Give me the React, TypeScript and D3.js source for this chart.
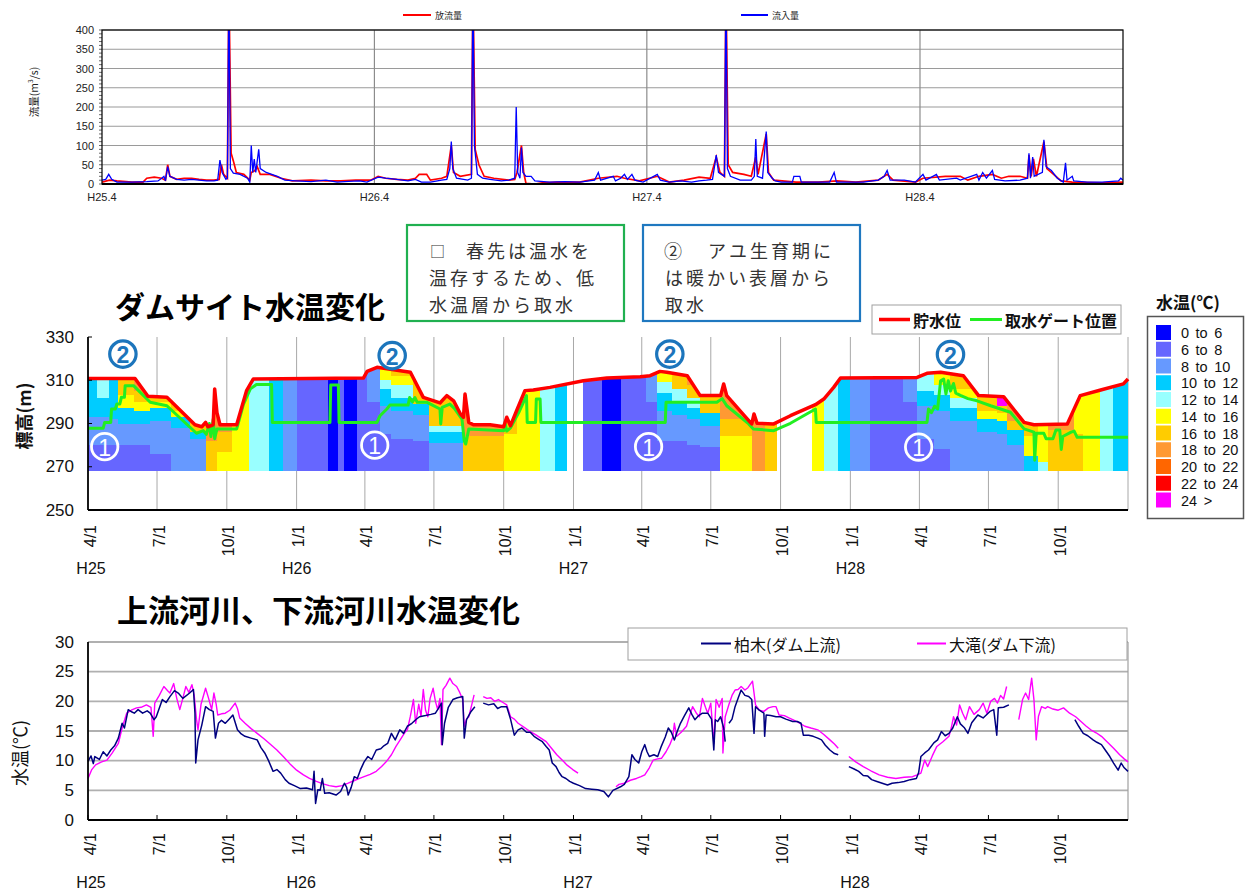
import React from 'react';
import * as d3 from 'd3';

const BASE = new Date(2013, 3, 1);
const day = (n: number) => d3.timeDay.offset(BASE, n);

const JP = "'Noto Sans CJK JP', 'Noto Sans', sans-serif";
const NUM = "'Liberation Sans', Arial, 'Noto Sans CJK JP', sans-serif";

// ---------- top chart: flows (m3/s) ----------
const FLOW_TICKS = [0, 50, 100, 150, 200, 250, 300, 350, 400];
const TOP_X_LABELS = ['H25.4', 'H26.4', 'H27.4', 'H28.4'];
const OUTFLOW: [number, number][] = [
  [0,5],[10,10],[20,8],[40,5],[55,5],[60,15],[70,18],[80,15],[85,10],[88,50],[91,20],[100,12],[110,15],[120,15],[130,12],[140,10],[150,10],[157,12],[160,50],[163,25],[168,15],[170,520],[173,80],[176,60],[180,30],[190,25],[198,10],[200,30],[205,35],[208,45],[212,25],[225,25],[240,15],[255,8],[280,10],[300,8],[320,8],[340,10],[360,10],[370,20],[380,15],[395,12],[410,10],[420,15],[425,25],[435,25],[440,10],[455,15],[462,20],[468,100],[471,30],[480,20],[495,25],[497,520],[500,90],[505,50],[512,20],[525,15],[545,10],[553,12],[556,30],[562,100],[565,30],[568,2],[580,0],[590,3],[610,5],[640,5],[665,15],[690,20],[700,15],[720,8],[744,20],[760,5],[780,10],[800,18],[815,15],[823,70],[828,30],[834,20],[836,520],[839,50],[845,30],[860,25],[870,20],[876,70],[879,25],[890,130],[893,30],[900,10],[930,5],[960,5],[985,8],[1010,5],[1040,10],[1052,25],[1060,10],[1090,5],[1100,15],[1130,20],[1150,20],[1160,10],[1175,20],[1193,25],[1205,15],[1215,20],[1230,20],[1240,15],[1242,75],[1245,20],[1248,65],[1252,20],[1262,110],[1266,40],[1272,30],[1285,8],[1300,5],[1340,3],[1368,5]
];
const INFLOW: [number, number][] = [
  [0,10],[5,12],[9,25],[13,12],[20,5],[40,5],[60,6],[75,8],[80,15],[83,20],[85,8],[88,45],[91,20],[100,12],[110,10],[120,12],[130,10],[140,8],[150,8],[155,10],[158,62],[161,30],[166,12],[168,15],[170,520],[172,40],[176,28],[185,25],[195,15],[198,5],[200,100],[202,30],[204,65],[206,30],[210,90],[212,40],[220,30],[235,20],[245,10],[260,8],[280,6],[300,10],[315,5],[330,7],[345,8],[355,5],[370,18],[380,15],[395,12],[410,8],[420,12],[428,5],[440,5],[455,10],[462,12],[466,40],[468,110],[470,40],[475,15],[490,10],[495,15],[497,520],[499,100],[503,25],[510,15],[520,12],[535,8],[545,10],[553,15],[555,200],[557,30],[560,15],[562,95],[564,30],[568,20],[575,20],[580,8],[600,5],[620,6],[640,5],[660,10],[665,30],[668,10],[685,20],[688,8],[695,15],[700,25],[704,12],[710,25],[714,10],[725,5],[744,25],[748,10],[760,5],[775,8],[790,5],[800,8],[810,10],[818,12],[823,75],[826,30],[830,25],[834,20],[836,520],[838,40],[842,20],[855,10],[870,10],[874,20],[876,117],[878,20],[885,15],[890,136],[892,30],[898,15],[902,8],[910,5],[925,5],[927,20],[935,20],[937,5],[960,5],[975,5],[981,30],[984,5],[1000,5],[1020,5],[1040,10],[1048,20],[1052,35],[1056,10],[1075,10],[1090,5],[1100,25],[1104,10],[1118,25],[1122,10],[1145,15],[1150,10],[1172,25],[1175,10],[1180,30],[1185,15],[1193,35],[1196,12],[1210,8],[1230,10],[1240,15],[1242,80],[1244,15],[1247,70],[1249,20],[1260,30],[1262,115],[1265,45],[1272,35],[1280,15],[1288,5],[1291,55],[1293,10],[1300,20],[1302,8],[1320,5],[1340,5],[1362,8],[1365,15],[1368,10]
];

// ---------- middle chart: dam site ----------
const ELEV_TICKS = [250, 270, 290, 310, 330];
const TEMP_LABELS = ['0 to 6', '6 to 8', '8 to 10', '10 to 12', '12 to 14', '14 to 16', '16 to 18', '18 to 20', '20 to 22', '22 to 24', '24 >'];
const TEMP_COLORS = ['#0000FF', '#6666FF', '#6699FF', '#00CCFF', '#99FFFF', '#FFFF00', '#FFCC00', '#FF9933', '#FF6600', '#FF0000', '#FF00FF'];
const HEAT_BOTTOM = 268;
// [startDay, endDay, [[layerTopElev, classIndex], ...] from the bottom]
const PROFILES: [number, number, [number, number][]][] = [
  [0, 12, [[280,1],[293,2],[330,3]]],
  [12, 28, [[280,1],[293,2],[302,3],[330,4]]],
  [28, 40, [[280,1],[292,2],[330,3]]],
  [40, 60, [[280,1],[290,2],[297,3],[303,5],[330,6]]],
  [60, 82, [[280,1],[290,2],[296,3],[300,5],[305,6],[330,7]]],
  [82, 110, [[276,1],[291,2],[297,3],[300,5],[330,6]]],
  [110, 135, [[288,2],[293,3],[296,5],[330,6]]],
  [135, 155, [[283,2],[286,3],[330,6]]],
  [155, 170, [[282,6],[330,7]]],
  [170, 190, [[277,5],[286,6],[330,7]]],
  [190, 212, [[330,5]]],
  [212, 239, [[330,4]]],
  [239, 257, [[330,3]]],
  [257, 275, [[330,2]]],
  [275, 317, [[330,1]]],
  [317, 330, [[330,0]]],
  [330, 337, [[330,1]]],
  [337, 354, [[330,0]]],
  [354, 368, [[330,1]]],
  [368, 385, [[300,1],[330,2]]],
  [385, 400, [[285,1],[298,2],[306,3],[310,4],[330,5]]],
  [400, 429, [[283,1],[296,2],[302,3],[308,4],[312,5],[330,6]]],
  [429, 450, [[282,1],[294,2],[299,3],[330,6]]],
  [450, 495, [[281,2],[286,3],[289,4],[330,6]]],
  [495, 548, [[284,6],[330,7]]],
  [548, 565, [[285,5],[330,6]]],
  [565, 596, [[330,5]]],
  [596, 616, [[330,4]]],
  [616, 631, [[330,3]]],
  [653, 677, [[330,1]]],
  [677, 703, [[330,0]]],
  [703, 735, [[330,1]]],
  [735, 750, [[300,1],[330,2]]],
  [750, 770, [[282,1],[296,2],[304,3],[309,4],[330,5]]],
  [770, 790, [[282,1],[294,2],[300,3],[306,4],[330,6]]],
  [790, 807, [[280,1],[292,2],[297,3],[302,4],[308,6],[330,7]]],
  [807, 833, [[279,1],[289,2],[295,3],[330,6]]],
  [833, 875, [[284,5],[292,6],[330,7]]],
  [875, 892, [[330,7]]],
  [892, 908, [[330,6]]],
  [954, 970, [[330,5]]],
  [970, 989, [[330,4]]],
  [989, 1005, [[330,3]]],
  [1005, 1031, [[330,2]]],
  [1031, 1075, [[330,1]]],
  [1075, 1093, [[300,1],[330,2]]],
  [1093, 1115, [[283,1],[298,2],[305,3],[330,4]]],
  [1115, 1137, [[278,1],[296,2],[303,3],[308,4],[330,5]]],
  [1137, 1172, [[291,2],[297,3],[302,4],[306,5],[330,6]]],
  [1172, 1198, [[286,2],[292,3],[296,5],[330,6]]],
  [1198, 1212, [[285,2],[291,3],[295,5],[298,6],[330,10]]],
  [1212, 1234, [[280,2],[287,3],[291,6],[330,7]]],
  [1234, 1252, [[275,3],[284,5],[330,6]]],
  [1252, 1266, [[272,4],[330,5]]],
  [1266, 1300, [[287,6],[330,7]]],
  [1300, 1312, [[285,6],[330,5]]],
  [1312, 1334, [[330,5]]],
  [1334, 1351, [[330,4]]],
  [1351, 1371, [[330,3]]]
];
const WATER_LEVEL: [number, number][] = [
  [0,310.8],[62,310.8],[79,302.6],[104,302.1],[141,289.4],[150,288.5],[155,290.5],[158,288.5],[165,289.4],[167,306],[170,295],[174,289.4],[196,289.4],[209,305.2],[218,310.6],[363,311],[368,314.1],[381,316],[425,313.7],[442,302.1],[464,299.5],[473,302.9],[482,300.5],[491,294.4],[495,292.9],[497,303.6],[502,290.5],[508,289.4],[530,289.4],[548,288.5],[552,292.9],[557,289],[565,295.9],[576,305.2],[587,305.5],[609,306.7],[653,309.8],[684,311],[728,311.6],[741,312.1],[754,314.1],[763,313.7],[790,312.1],[807,302.9],[834,302.9],[838,308.3],[842,302.9],[869,292.1],[875,289.8],[878,294.4],[882,290.1],[904,289.8],[926,293.6],[959,298.7],[970,301.3],[983,306.7],[992,311],[1093,311.3],[1106,313.2],[1124,313.7],[1154,312.1],[1174,302.9],[1207,302.4],[1234,290.5],[1247,289.4],[1291,289.8],[1308,302.9],[1335,305.5],[1365,308.3],[1371,310.6]
];
const GATE_LEVEL: [number, number][] = [
  [0,287.8],[20,287.8],[22,290.5],[30,290.5],[31,296.7],[36,296.7],[38,299],[42,299],[44,302.1],[48,302.1],[49,307.5],[60,307.5],[82,299.8],[104,298.2],[143,285.5],[152,286.7],[156,285],[160,290],[162,284],[165,292],[167,283],[170,287.5],[196,287.5],[205,299],[214,306],[222,308],[242,308],[243,290.5],[319,290.5],[320,307.8],[330,307.8],[331,290.5],[381,290.5],[385,293.6],[394,296.7],[398,298.5],[422,298.5],[424,302],[428,300],[431,302],[434,299.8],[447,299.8],[464,296.7],[465,289.8],[467,297.5],[477,299],[483,297],[493,292],[496,282],[498,280.5],[502,287.5],[548,286.7],[550,289.8],[552,286.5],[557,288],[568,295.2],[578,302.9],[579,290.5],[590,290.5],[591,301.3],[596,301.3],[597,290.5],[761,290.5],[762,299.8],[829,299.8],[836,301.5],[842,298.2],[871,289.8],[877,287.5],[904,286.7],[926,290.1],[959,296.7],[960,290.5],[1106,290.5],[1108,296.7],[1112,295],[1116,298],[1120,296.7],[1124,309.8],[1128,310.6],[1131,303.6],[1134,309.8],[1137,305],[1141,308.5],[1144,304],[1150,303],[1160,301.5],[1172,300.5],[1190,298.2],[1216,295.2],[1234,287.5],[1247,286],[1248,273],[1250,285.5],[1260,285.5],[1263,283],[1272,283],[1276,287],[1281,287],[1283,278],[1285,284],[1296,286],[1300,286.5],[1304,283.6],[1371,283.6]
];
const MARK2: [number, number][] = [[46.1,322.1],[401.5,321.4],[767.4,322.1],[1137.9,321.9]];
const MARK1: [number, number][] = [[22.4,279.3],[378.4,280],[739.7,279.3],[1095.7,279.1]];
const YEAR_LABELS = ['H25', 'H26', 'H27', 'H28'];
const YEAR_LABEL_DAYS = [4, 275, 640, 1005];

// ---------- bottom chart: river temperatures ----------
const TEMP_TICKS = [0, 5, 10, 15, 20, 25, 30];
const KASHIWAGI: [number, number][] = [
  [0,9.9],[4,10.8],[7,9.5],[9,10.7],[15,10.2],[20,11.5],[25,10.8],[30,11.8],[35,12.5],[40,13.8],[45,16.3],[48,15.5],[53,18.6],[58,18.2],[61,18.0],[66,18.6],[72,18.0],[78,18.4],[82,18.0],[87,16.9],[90,17.4],[98,20.3],[103,19.8],[108,20.8],[114,21.8],[119,21.4],[125,20.5],[134,21.4],[139,22.0],[141,18],[142,9.6],[145,13.5],[150,16],[155,19.1],[160,18.6],[165,18.3],[168,13.8],[172,16.3],[176,16.8],[181,16.3],[186,17.0],[191,17.7],[197,15.2],[202,14.5],[207,14.1],[215,13.8],[223,13.5],[228,12.2],[233,11.3],[238,10.0],[244,8.2],[249,8.5],[254,7.9],[260,6.8],[265,6.2],[272,5.8],[280,5.3],[288,5.4],[296,5.1],[298,8.2],[300,2.8],[303,5.1],[306,5.0],[309,7.0],[312,4.5],[318,4.6],[327,4.2],[333,4.8],[338,6.2],[341,5.5],[343,4.2],[347,5.5],[351,7.3],[355,7.0],[359,8.4],[364,9.8],[369,10.7],[374,10.2],[380,11.8],[386,12.0],[390,12.5],[395,12.9],[400,14.6],[405,13.5],[411,15.2],[416,14.6],[421,15.8],[427,16.3],[432,16.9],[437,17.4],[445,17.6],[452,17.8],[458,18.0],[462,18.8],[466,19.7],[467,12.7],[470,16.3],[475,19.0],[481,20.3],[487,20.6],[494,20.8],[496,13.8],[499,16.9],[505,18.3],[510,19.1],[511,NaN],[521,19.7],[528,19.4],[535,19.6],[540,18.8],[545,19.1],[552,19.1],[557,17],[562,14.3],[567,15.2],[572,15.5],[578,14.8],[583,14.8],[588,14.1],[594,13.6],[599,13.2],[604,12.4],[608,11.8],[612,9.6],[617,9.0],[621,8.0],[625,7.3],[630,7.0],[635,6.5],[640,6.2],[648,5.8],[656,5.3],[664,5.2],[672,5.1],[680,4.8],[686,3.9],[692,5.0],[702,5.6],[707,6.0],[713,7.3],[717,11.0],[721,10.2],[726,9.6],[730,11.5],[734,12.7],[737,11.5],[740,10.7],[746,11.0],[751,10.7],[756,12.5],[761,14.0],[765,15.5],[769,14.8],[773,13.5],[777,15.0],[781,16.3],[786,17.5],[792,18.9],[796,17.8],[800,16.9],[805,17.6],[810,18.0],[817,18.0],[822,17.0],[825,11.8],[827,16.9],[830,16.6],[834,17.4],[838,15.5],[840,13.2],[841,NaN],[845,16.3],[849,17.0],[853,19.1],[857,20.5],[861,21.9],[866,21.0],[871,20.8],[875,20.3],[878,14.6],[880,19.1],[885,18.5],[891,18.0],[892,14.1],[894,17.7],[900,17.6],[907,17.4],[913,17.4],[920,17.0],[929,16.6],[935,16.6],[940,16.3],[943,14.3],[950,14.3],[956,14.1],[962,13.8],[967,13.5],[972,12.6],[978,11.8],[984,11.2],[989,11.0],[990,NaN],[1003,9.0],[1010,8.6],[1016,8.2],[1022,7.5],[1028,7.4],[1033,6.8],[1040,6.5],[1047,6.2],[1054,5.9],[1060,6.2],[1068,6.3],[1076,6.5],[1084,6.8],[1092,7.0],[1095,8.0],[1098,10.7],[1103,11.3],[1108,11.8],[1115,13.0],[1120,13.5],[1125,14.9],[1130,14.2],[1135,14.6],[1140,15.5],[1146,17.4],[1150,16.2],[1155,15.6],[1160,14.6],[1165,16.4],[1173,17.7],[1180,17.2],[1189,18.3],[1194,18.6],[1198,14.3],[1200,18.9],[1207,19.0],[1214,19.4],[1215,NaN],[1301,16.9],[1306,15.8],[1312,14.6],[1318,14.2],[1325,13.5],[1330,13.1],[1336,12.7],[1341,11.8],[1347,10.7],[1352,9.6],[1358,8.4],[1362,9.6],[1366,8.8],[1371,8.2]
];
const OOTAKI: [number, number][] = [
  [0,7.0],[5,8.5],[10,9.3],[18,9.8],[25,10.1],[32,11.3],[40,12.9],[45,15.5],[51,18.0],[57,18.5],[64,18.9],[70,19.0],[77,19.4],[83,19.0],[86,14.1],[88,19.7],[94,21.0],[100,22.5],[105,21.8],[108,21.4],[113,23.0],[117,20.5],[121,18.6],[125,20.5],[129,22.5],[133,21.5],[137,22.8],[140,21.0],[143,17],[145,15.2],[149,19.5],[155,22.2],[159,20.5],[163,18.6],[166,21.4],[169,19.5],[171,17.7],[176,17.9],[181,18.0],[187,18.5],[194,19.7],[197,18.8],[200,17.2],[207,16.3],[215,15.4],[223,14.6],[232,13.7],[240,12.8],[249,11.8],[258,10.6],[266,9.5],[275,8.4],[284,7.6],[292,7.0],[301,6.5],[310,6.1],[318,5.8],[327,5.6],[335,5.8],[343,6.2],[352,6.7],[358,7.0],[364,7.3],[372,7.7],[380,8.2],[387,9.0],[393,9.8],[400,11.0],[406,12.4],[413,13.8],[418,14.8],[421,15.2],[425,17.5],[429,20.3],[432,16.3],[436,19.5],[439,17.5],[442,22.0],[445,18.5],[448,17.4],[451,20.5],[455,22.2],[458,20.0],[461,18.6],[464,20.5],[466,12.7],[468,22.0],[472,22.7],[477,23.9],[481,23.0],[486,22.5],[490,21.5],[494,20.3],[496,15.8],[499,17.0],[502,17.4],[506,19.5],[509,21.1],[510,NaN],[521,20.8],[526,20.5],[531,20.6],[536,20.0],[541,20.3],[547,19.8],[552,19.4],[557,17.4],[562,17.0],[567,16.3],[575,15.6],[583,14.9],[590,14.4],[597,13.8],[604,13.2],[611,12.1],[618,11.0],[625,10.1],[632,9.2],[639,8.5],[646,7.9],[647,NaN],[696,5.6],[700,6.0],[707,6.2],[715,6.7],[723,7.0],[729,7.3],[734,7.6],[740,8.8],[745,10.1],[751,10.3],[756,10.4],[762,11.5],[767,12.7],[771,14.0],[773,16.3],[776,14.1],[782,14.8],[789,15.8],[793,17.5],[797,19.1],[802,18.0],[806,17.4],[810,20.5],[814,19.0],[817,18.0],[821,19.7],[825,12.9],[828,20.3],[832,19.0],[836,20.5],[837,11.3],[840,17.4],[845,19.5],[849,21.0],[853,21.9],[857,22.0],[861,22.5],[866,21.9],[870,22.3],[876,23.4],[880,19.4],[885,18.5],[891,18.3],[897,18.9],[903,19.1],[907,19.1],[911,17.7],[918,17.6],[924,17.2],[929,16.9],[937,16.4],[945,15.8],[953,15.5],[962,15.2],[970,14.4],[978,13.5],[984,12.8],[989,12.1],[990,NaN],[1003,10.7],[1012,9.8],[1022,9.0],[1032,8.3],[1043,7.6],[1054,7.2],[1065,7.0],[1076,7.2],[1087,7.3],[1093,7.6],[1098,7.9],[1103,10.1],[1107,9.0],[1113,10.8],[1119,12.4],[1127,13.2],[1135,14.1],[1138,15.5],[1141,17.4],[1145,16.0],[1149,19.4],[1153,18.0],[1157,16.9],[1162,19.1],[1168,17.8],[1175,18.6],[1180,19.7],[1185,18.0],[1190,20.0],[1195,20.5],[1199,19.7],[1203,21.0],[1207,20.4],[1211,22.5],[1212,NaN],[1227,16.9],[1232,20.3],[1236,21.4],[1240,20.3],[1244,23.9],[1247,20.3],[1250,13.5],[1253,17.5],[1257,19.1],[1262,18.8],[1265,19.1],[1272,18.7],[1279,18.5],[1286,18.9],[1294,18.0],[1302,17.4],[1309,16.6],[1316,15.8],[1322,15.2],[1329,14.7],[1336,14.1],[1344,13.1],[1352,12.1],[1360,11.0],[1366,10.3],[1371,9.8]
];
const BOT_YEAR_DAYS = [4, 281, 646, 1011];

export default function App() {
  const topX = d3.scaleTime().domain([day(0), day(1368)]).range([102, 1123]);
  const topY = d3.scaleLinear().domain([0, 400]).range([184, 30]);
  const midX = d3.scaleTime().domain([day(0), day(1371)]).range([88, 1128]);
  const midY = d3.scaleLinear().domain([250, 330]).range([510, 337]);
  const botY = d3.scaleLinear().domain([0, 30]).range([820, 642]);

  const flowLine = d3.line<[number, number]>().x(d => topX(day(d[0]))).y(d => topY(d[1]));
  const elevLine = d3.line<[number, number]>().x(d => midX(day(d[0]))).y(d => midY(d[1]));
  const wlArea = d3.area<[number, number]>().x(d => midX(day(d[0]))).y0(midY(250)).y1(d => midY(d[1]));
  const tempLine = d3.line<[number, number]>().defined(d => !isNaN(d[1])).x(d => midX(day(d[0]))).y(d => botY(d[1]));

  const quarters = d3.timeMonth.every(3)!.range(day(0), day(1371));
  const topYears = TOP_X_LABELS.map((_, i) => d3.timeYear.offset(BASE, i));
  const minorTop = d3.range(0, 401, 10);

  const annot = { fontSize: 18, letterSpacing: 3 };

  return (
    <svg width={1245} height={892} style={{ position: 'absolute', left: 0, top: 0, background: '#fff' }}>
      <defs>
        <clipPath id="topclip"><rect x={102} y={30} width={1021} height={154} /></clipPath>
        <clipPath id="wlclip"><path d={wlArea(WATER_LEVEL) || ''} /></clipPath>
      </defs>
      <rect x={0} y={0} width={1245} height={892} fill="#fff" />

      {/* ===== top chart ===== */}
      <g>
        {FLOW_TICKS.map(t => (
          <line key={'tg' + t} x1={102} x2={1123} y1={topY(t)} y2={topY(t)} stroke="#9a9a9a" strokeWidth={1.2} />
        ))}
        {topYears.slice(1).map((d, i) => (
          <line key={'tv' + i} x1={topX(d)} x2={topX(d)} y1={30} y2={184} stroke="#8c8c8c" strokeWidth={1.2} />
        ))}
        <g clipPath="url(#topclip)">
          <path d={flowLine(OUTFLOW) || ''} fill="none" stroke="#FF0000" strokeWidth={1.7} />
          <path d={flowLine(INFLOW) || ''} fill="none" stroke="#0000FF" strokeWidth={1.3} />
        </g>
        <rect x={102} y={30} width={1021} height={154} fill="none" stroke="#000" strokeWidth={1.2} />
        <line x1={102} x2={1123} y1={184} y2={184} stroke="#000" strokeWidth={1.8} />
        {minorTop.map(t => (
          <line key={'mt' + t} x1={99} x2={102} y1={topY(t)} y2={topY(t)} stroke="#000" strokeWidth={0.6} />
        ))}
        {FLOW_TICKS.map(t => (
          <text key={'tl' + t} x={94} y={topY(t)} textAnchor="end" dominantBaseline="central" fontFamily={NUM} fontSize={11} fill="#222">{t}</text>
        ))}
        {topYears.map((d, i) => (
          <text key={'ty' + i} x={topX(d)} y={197} textAnchor="middle" dominantBaseline="central" fontFamily={NUM} fontSize={11} fill="#222">{TOP_X_LABELS[i]}</text>
        ))}
        <text transform="translate(33,92) rotate(-90)" textAnchor="middle" dominantBaseline="central" fontFamily={JP} fontSize={10.5} fill="#222">
          流量(m<tspan fontSize={6.5} dy={-3.5}>3</tspan><tspan dy={3.5}>/s)</tspan>
        </text>
        <line x1={403} x2={431} y1={15} y2={15} stroke="#FF0000" strokeWidth={2} />
        <text x={435} y={15} dominantBaseline="central" fontFamily={JP} fontSize={9} fill="#222">放流量</text>
        <line x1={741} x2={768} y1={15} y2={15} stroke="#0000FF" strokeWidth={2} />
        <text x={772} y={15} dominantBaseline="central" fontFamily={JP} fontSize={9} fill="#222">流入量</text>
      </g>

      {/* ===== annotation boxes ===== */}
      <g fontFamily={JP} fill="#333">
        <rect x={407} y={225} width={217} height={96} fill="#fff" stroke="#20B050" strokeWidth={2.2} />
        <text x={430} y={250} dominantBaseline="central" fontSize={15}>□</text>
        <text x={466} y={250} dominantBaseline="central" {...annot}>春先は温水を</text>
        <text x={429} y={277} dominantBaseline="central" {...annot}>温存するため、低</text>
        <text x={429} y={303.5} dominantBaseline="central" {...annot}>水温層から取水</text>
        <rect x={643} y={225} width={217} height={96} fill="#fff" stroke="#1F78C0" strokeWidth={2.2} />
        <text x={664} y={250} dominantBaseline="central" {...annot}>②</text>
        <text x={708} y={250} dominantBaseline="central" {...annot}>アユ生育期に</text>
        <text x={665} y={277} dominantBaseline="central" {...annot}>は暖かい表層から</text>
        <text x={665} y={303.5} dominantBaseline="central" {...annot}>取水</text>
      </g>

      {/* ===== middle chart ===== */}
      <text x={115} y={318} fontFamily={JP} fontWeight="bold" fontSize={30} fill="#000">ダムサイト水温変化</text>
      <g>
        {quarters.slice(1).map((d, i) => (
          <line key={'mg' + i} x1={midX(d)} x2={midX(d)} y1={337} y2={510} stroke="#a8a8a8" strokeWidth={1} />
        ))}
        <line x1={1128} x2={1128} y1={337} y2={510} stroke="#a8a8a8" strokeWidth={1} />
        <g clipPath="url(#wlclip)" shapeRendering="crispEdges">
          {PROFILES.map(([s, e, layers], i) => {
            let prev = HEAT_BOTTOM;
            const x0 = midX(day(s));
            const x1 = midX(day(e));
            return layers.map(([top, cls], j) => {
              const r = (
                <rect key={'h' + i + '_' + j} x={x0} width={x1 - x0 + 0.5} y={midY(top)} height={midY(prev) - midY(top)} fill={TEMP_COLORS[cls]} />
              );
              prev = top;
              return r;
            });
          })}
        </g>
        <path d={elevLine(GATE_LEVEL) || ''} fill="none" stroke="#22EE22" strokeWidth={3} strokeLinejoin="round" />
        <path d={elevLine(WATER_LEVEL) || ''} fill="none" stroke="#FF0000" strokeWidth={3.5} strokeLinejoin="round" />
        {MARK2.map((m, i) => (
          <g key={'m2' + i} transform={`translate(${midX(day(m[0]))},${midY(m[1])})`}>
            <circle r={13.2} fill="none" stroke="#1C75BC" strokeWidth={3.2} />
            <text x={0} y={1} textAnchor="middle" dominantBaseline="central" fontFamily={NUM} fontWeight="bold" fontSize={23} fill="#1C75BC">2</text>
          </g>
        ))}
        {MARK1.map((m, i) => (
          <g key={'m1' + i} transform={`translate(${midX(day(m[0]))},${midY(m[1])})`}>
            <circle r={13.2} fill="none" stroke="#fff" strokeWidth={2.8} />
            <text x={0} y={1} textAnchor="middle" dominantBaseline="central" fontFamily={NUM} fontSize={23} fill="#fff">1</text>
          </g>
        ))}
        <line x1={88} x2={88} y1={337} y2={510} stroke="#000" strokeWidth={1.8} />
        <line x1={88} x2={1128} y1={510} y2={510} stroke="#000" strokeWidth={1.8} />
        {ELEV_TICKS.map(t => (
          <g key={'et' + t}>
            <line x1={88} x2={92} y1={midY(t)} y2={midY(t)} stroke="#000" />
            <text x={74} y={midY(t)} textAnchor="end" dominantBaseline="central" fontFamily={NUM} fontSize={17} fill="#111">{t}</text>
          </g>
        ))}
        {quarters.map((d, i) => (
          <text key={'mx' + i} transform={`translate(${midX(d) + 2},525) rotate(-90)`} textAnchor="end" dominantBaseline="central" fontFamily={NUM} fontSize={16} fill="#111">{`${d.getMonth() + 1}/1`}</text>
        ))}
        {YEAR_LABELS.map((l, i) => (
          <text key={'my' + i} x={midX(day(YEAR_LABEL_DAYS[i]))} y={568} textAnchor="middle" dominantBaseline="central" fontFamily={NUM} fontSize={16} fill="#111">{l}</text>
        ))}
        <text transform="translate(23,416) rotate(-90)" textAnchor="middle" dominantBaseline="central" fontFamily={JP} fontWeight="bold" fontSize={18} fill="#111">標高(m)</text>
        {/* line legend */}
        <rect x={872} y={305} width={249} height={29} fill="#fff" stroke="#a0a0a0" strokeWidth={1} />
        <line x1={879} x2={910} y1={319.5} y2={319.5} stroke="#FF0000" strokeWidth={3.5} />
        <text x={913} y={319.5} dominantBaseline="central" fontFamily={JP} fontWeight="bold" fontSize={16} fill="#111">貯水位</text>
        <line x1={970} x2={1002} y1={319.5} y2={319.5} stroke="#22EE22" strokeWidth={3} />
        <text x={1005} y={319.5} dominantBaseline="central" fontFamily={JP} fontWeight="bold" fontSize={16} fill="#111">取水ゲート位置</text>
        {/* temperature legend */}
        <text x={1156} y={301} dominantBaseline="central" fontFamily={JP} fontWeight="bold" fontSize={17} fill="#111">水温(℃)</text>
        <rect x={1147.5} y={316.5} width={96} height={202} fill="#fff" stroke="#555" strokeWidth={1.5} />
        {TEMP_LABELS.map((l, i) => (
          <g key={'lg' + i}>
            <rect x={1156} y={325 + i * 16.75} width={15} height={15} fill={TEMP_COLORS[i]} />
            <text x={1181} y={333 + i * 16.75} dominantBaseline="central" fontFamily={NUM} fontSize={14.5} wordSpacing={2.5} fill="#111">{l}</text>
          </g>
        ))}
      </g>

      {/* ===== bottom chart ===== */}
      <text x={117} y={622} fontFamily={JP} fontWeight="bold" fontSize={31} fill="#000">上流河川、下流河川水温変化</text>
      <g>
        {TEMP_TICKS.slice(1).map(t => (
          <line key={'bg' + t} x1={88} x2={1128} y1={botY(t)} y2={botY(t)} stroke="#b0b0b0" strokeWidth={1.8} />
        ))}
        <line x1={1128} x2={1128} y1={642} y2={820} stroke="#a0a0a0" strokeWidth={1.2} />
        <path d={tempLine(OOTAKI) || ''} fill="none" stroke="#FF00FF" strokeWidth={1.4} strokeLinejoin="round" />
        <path d={tempLine(KASHIWAGI) || ''} fill="none" stroke="#000080" strokeWidth={1.5} strokeLinejoin="round" />
        <line x1={88} x2={88} y1={642} y2={820} stroke="#000" strokeWidth={1.8} />
        <line x1={88} x2={1128} y1={820} y2={820} stroke="#000" strokeWidth={1.8} />
        {quarters.map((d, i) => (
          <g key={'bx' + i}>
            <line x1={midX(d)} x2={midX(d)} y1={815} y2={820} stroke="#000" />
            <text transform={`translate(${midX(d) + 2},833) rotate(-90)`} textAnchor="end" dominantBaseline="central" fontFamily={NUM} fontSize={16} fill="#111">{`${d.getMonth() + 1}/1`}</text>
          </g>
        ))}
        {YEAR_LABELS.map((l, i) => (
          <text key={'by' + i} x={midX(day(BOT_YEAR_DAYS[i]))} y={882} textAnchor="middle" dominantBaseline="central" fontFamily={NUM} fontSize={16} fill="#111">{l}</text>
        ))}
        {TEMP_TICKS.map(t => (
          <text key={'bt' + t} x={74} y={botY(t)} textAnchor="end" dominantBaseline="central" fontFamily={NUM} fontSize={17} fill="#111">{t}</text>
        ))}
        <text transform="translate(19,753) rotate(-90)" textAnchor="middle" dominantBaseline="central" fontFamily={JP} fontSize={18} fill="#111">水温(℃)</text>
        <rect x={628} y={628} width={499} height={32} fill="#fff" stroke="#a0a0a0" strokeWidth={1} />
        <line x1={701} x2={731} y1={643.5} y2={643.5} stroke="#000080" strokeWidth={2} />
        <text x={734} y={643.5} dominantBaseline="central" fontFamily={JP} fontSize={16} fill="#111">柏木(ダム上流)</text>
        <line x1={917} x2={946} y1={643.5} y2={643.5} stroke="#FF00FF" strokeWidth={2} />
        <text x={949} y={643.5} dominantBaseline="central" fontFamily={JP} fontSize={16} fill="#111">大滝(ダム下流)</text>
      </g>
    </svg>
  );
}
